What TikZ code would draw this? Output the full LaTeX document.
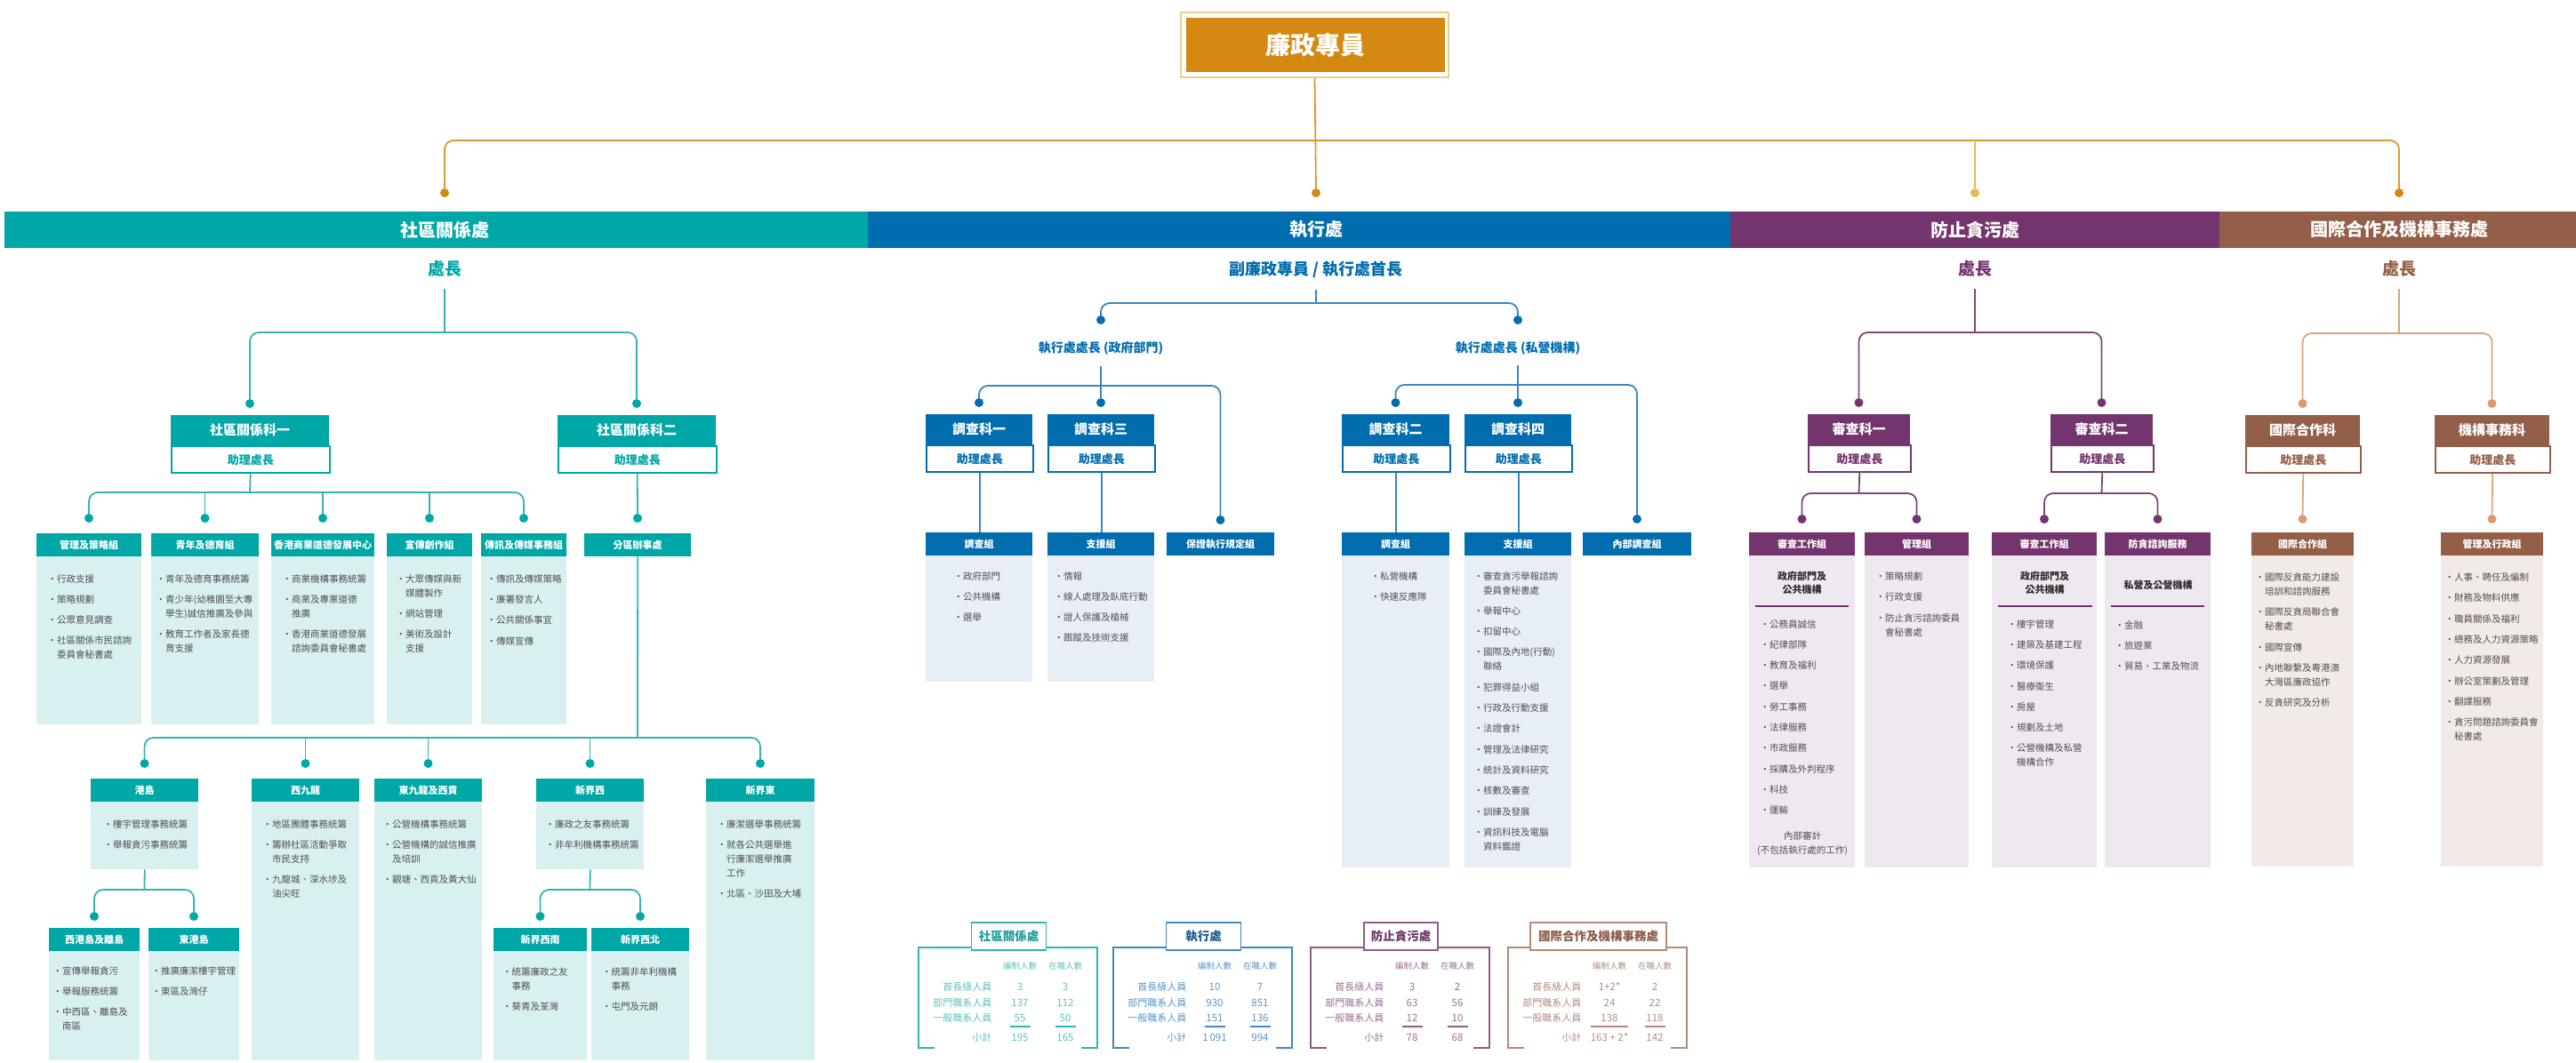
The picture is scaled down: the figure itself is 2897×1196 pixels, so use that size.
\documentclass[tikz,border=0pt]{standalone}
\usepackage{fontspec}
\setmainfont{Noto Sans CJK TC}
\usetikzlibrary{calc}
\definecolor{corange}{HTML}{D48A12}
\definecolor{cgold}{HTML}{DA9B30}
\definecolor{cgoldlt}{HTML}{E9B94C}
\definecolor{cframe}{HTML}{EDCD8E}
\definecolor{cteal}{HTML}{00A7A7}
\definecolor{ctealln}{HTML}{35B3B3}
\definecolor{ctealbg}{HTML}{D9F0F0}
\definecolor{cblue}{HTML}{006DAE}
\definecolor{cblueln}{HTML}{3A86BF}
\definecolor{cbluebg}{HTML}{E7EEF6}
\definecolor{cpurple}{HTML}{74346E}
\definecolor{cpurpleln}{HTML}{7D4779}
\definecolor{cpurplebg}{HTML}{F0E8F0}
\definecolor{cbrown}{HTML}{945F49}
\definecolor{cbrownln}{HTML}{DDA47F}
\definecolor{cbrowndot}{HTML}{DB9A6E}
\definecolor{cbrownbg}{HTML}{F1EAE7}
\definecolor{ctxt}{HTML}{505050}
\definecolor{cdark}{HTML}{2E2E2E}
\definecolor{tTf}{HTML}{2FB4B4}\definecolor{tTx}{HTML}{5CC3C3}\definecolor{tTh}{HTML}{1F9D9D}
\definecolor{tBf}{HTML}{3F88C1}\definecolor{tBx}{HTML}{5A96C8}\definecolor{tBh}{HTML}{1E5D93}
\definecolor{tPf}{HTML}{8E5B8B}\definecolor{tPx}{HTML}{9D6E9A}\definecolor{tPh}{HTML}{6B3767}
\definecolor{tRf}{HTML}{B58877}\definecolor{tRx}{HTML}{B58E7F}\definecolor{tRh}{HTML}{8C5C4B}

\newcommand\sz[2]{\fontsize{#1pt}{#2pt}\selectfont}
\newcommand\IB{\\[7.3pt]・}
\newcommand\IC{\\\hspace*{1em}}

\tikzset{
  cdot/.style={circle, fill=#1, inner sep=0, minimum size=10},
  conn/.style={draw=#1, line width=1.8pt, rounded corners=10pt},
  hbar/.style={rectangle, fill=#1, inner sep=0, anchor=north west},
  sectext/.style={text=white, font=\sz{20}{24}\bfseries, inner sep=0},
  chief/.style={text=#1, font=\sz{19}{22}\bfseries, inner sep=0, outer xsep=0, outer ysep=13.5pt},
  sub2/.style={text=#1, font=\sz{14}{17}\bfseries, inner sep=0, outer xsep=0, outer ysep=12pt},
  l2head/.style={anchor=north west, inner sep=0, minimum height=34, text=white, font=\sz{15}{18}\bfseries},
  l2sub/.style={anchor=north west, inner sep=0, minimum height=30, fill=white, line width=1.5pt, font=\sz{13}{16}\bfseries},
  thead/.style={anchor=north west, inner sep=0, minimum height=26, text=white, font=\sz{11}{13}\bfseries},
  tbody/.style={anchor=north west, inner sep=0, draw=none},
  itemtxt/.style={anchor=north west, align=left, inner sep=0, text=ctxt, font=\sz{10.5}{16}},
  subhd/.style={align=center, inner sep=0, text=cdark, font=\sz{11}{15.5}\bfseries},
  notetxt/.style={align=center, inner sep=0, text=ctxt, font=\sz{10.5}{16}},
  sepln/.style={draw=cpurple, line width=2pt},
  ttitle/.style={fill=white, line width=1.6pt, inner sep=0, minimum height=31, font=\sz{13.5}{16}\bfseries},
  tframe/.style={line width=1.8pt},
  tcolh/.style={inner sep=0, font=\sz{9.5}{11}},
  tlab/.style={inner sep=0, anchor=east, font=\sz{11}{13}},
  tnum/.style={inner sep=0, font=\sz{11.5}{13}},
}

\newcommand\mkltwo[6]{%
  \node[l2head, fill=#4, minimum width=#3] (#1) at (#2,#6) {#5};
  \node[l2sub, draw=#4, text=#4, minimum width=#3] (#1s) at (#1.south west) {助理處長};}
\newcommand\mkteam[6]{%
  \node[thead, fill=#5, minimum width=#4] (#1) at (#2,#3) {#6};}
\newcommand\mkbody[6]{%
  \node[tbody, fill=#6, minimum width=#4, minimum height=#5] (#1) at (#2,#3) {};}

\newcommand\stafftab[9]{%
\begin{scope}[shift={(#2,0)}]
  \node[ttitle, draw=#3f, text=#3h, minimum width=#5] (tt#1) at (101.5,1053.5) {#4};
  \draw[tframe, draw=#3f] (18,1179) -- (0,1179) -- (0,1066) -- (tt#1.west |- 0,1066);
  \draw[tframe, draw=#3f] (tt#1.east |- 0,1066) -- (201,1066) -- (201,1179) -- (183,1179);
  \node[tcolh, text=#3x] (ha#1) at (114,1087) {編制人數};
  \node[tcolh, text=#3x] (hb#1) at (165,1087) {在職人數};
  \foreach \lab/\va/\vb/\yy [count=\k] in {#6} {
    \node[tlab, text=#3x] (l#1\k) at (82.5,\yy) {\lab};
    \node[tnum, text=#3x] (a#1\k) at (114,\yy) {\va};
    \node[tnum, text=#3x] (b#1\k) at (165,\yy) {\vb};
  }
  \draw[tframe, draw=#3f] (114-#9/2,1155) -- (114+#9/2,1155);
  \draw[tframe, draw=#3f] (153.5,1155) -- (176.5,1155);
  \node[tlab, text=#3x] (ls#1) at (82.5,1167) {小計};
  \node[tnum, text=#3x] (sa#1) at (114,1167) {#7};
  \node[tnum, text=#3x] (sb#1) at (165,1167) {#8};
\end{scope}}

\begin{document}
\begin{tikzpicture}[x=1pt,y=-1pt]
\useasboundingbox (0,0) rectangle (2897,1196);
\fill[white] (0,0) rectangle (2897,1196);

% ---------- Director ----------
\node[draw=cframe, line width=2.5pt, minimum width=301, minimum height=73, inner sep=0] (dirframe) at (1478.5,50.5) {};
\node[fill=corange, minimum width=291, minimum height=61, inner sep=0, text=white, font=\sz{28}{32}\bfseries] (dir) at (1479.5,50.5) {廉政專員};

\coordinate (barT) at (1480,158);
\node[cdot=corange] (dS1) at (500,217) {};
\node[cdot=corange] (dS2) at (1480,217) {};
\node[cdot=cgoldlt] (dS3) at (2221,217) {};
\node[cdot=corange] (dS4) at (2698,217) {};
\draw[conn=cgold] (dS1.north) -- (dS1 |- barT) -- (dS4 |- barT) -- (dS4.north);
\draw[conn=cgold] (dirframe.south) -- (dS2.north);
\draw[conn=cgoldlt] (dS3 |- barT) -- (dS3.north);

% ---------- Section bars ----------
\node[hbar=cteal, minimum width=971, minimum height=41] (secC) at (5,238) {};
\node[hbar=cblue, minimum width=970, minimum height=41] (secE) at (976,238) {};
\node[hbar=cpurple, minimum width=550, minimum height=41] (secP) at (1946,238) {};
\node[hbar=cbrown, minimum width=401, minimum height=41] (secI) at (2496,238) {};
\node[sectext] (secCt) at (500,258.5) {社區關係處};
\node[sectext] (secEt) at (1480,258.5) {執行處};
\node[sectext] (secPt) at (2221,258.5) {防止貪污處};
\node[sectext] (secIt) at (2698,258.5) {國際合作及機構事務處};

\node[chief=cteal] (chC) at (500,302) {處長};
\node[chief=cblue, font=\sz{18}{21}\bfseries] (chE) at (1480,303) {副廉政專員 / 執行處首長};
\node[chief=cpurple] (chP) at (2221,302) {處長};
\node[chief=cbrown] (chI) at (2698,302) {處長};

% ================= 社區關係處 =================
\coordinate (cBar1) at (500,374);
\node[cdot=cteal] (dC1) at (281,454) {};
\node[cdot=cteal] (dC2) at (716,454) {};
\draw[conn=ctealln] (dC1.north) -- (dC1 |- cBar1) -- (dC2 |- cBar1) -- (dC2.north);
\draw[conn=ctealln] (chC.south) -- (cBar1);
\mkltwo{cK1}{192}{178}{cteal}{社區關係科一}{467}
\mkltwo{cK2}{627}{178}{cteal}{社區關係科二}{467}

\coordinate (cBar2) at (281,554);
\node[cdot=cteal] (dT1) at (100,583) {};
\node[cdot=cteal] (dT2) at (230.5,583) {};
\node[cdot=cteal] (dT3) at (363,583) {};
\node[cdot=cteal] (dT4) at (483,583) {};
\node[cdot=cteal] (dT5) at (589,583) {};
\node[cdot=cteal] (dT6) at (717,583) {};
\draw[conn=ctealln] (dT1.north) -- (dT1 |- cBar2) -- (dT5 |- cBar2) -- (dT5.north);
\draw[conn=ctealln] (cK1s.south) -- (cBar2);
\foreach \d in {dT2,dT3,dT4} \draw[conn=ctealln] (\d |- cBar2) -- (\d.north);
\draw[conn=ctealln] (cK2s.south) -- (dT6.north);

\mkteam{cA}{41}{600}{118}{cteal}{管理及策略組}
\mkteam{cB}{170}{600}{121}{cteal}{青年及德育組}
\mkteam{cC}{305}{600}{116}{cteal}{香港商業道德發展中心}
\mkteam{cD}{435}{600}{96}{cteal}{宣傳創作組}
\mkteam{cE}{541}{600}{96}{cteal}{傳訊及傳媒事務組}
\mkteam{cF}{657}{600}{120}{cteal}{分區辦事處}
\mkbody{cAb}{41}{626}{118}{189}{ctealbg}
\mkbody{cBb}{170}{626}{121}{189}{ctealbg}
\mkbody{cCb}{305}{626}{116}{189}{ctealbg}
\mkbody{cDb}{435}{626}{96}{189}{ctealbg}
\mkbody{cEb}{541}{626}{96}{189}{ctealbg}
\node[itemtxt] (cAi) at (53.5,646) {・行政支援\IB 策略規劃\IB 公眾意見調查\IB 社區關係市民諮詢\IC 委員會秘書處};
\node[itemtxt] (cBi) at (175.5,646) {・青年及德育事務統籌\IB 青少年(幼稚園至大專\IC 學生)誠信推廣及參與\IB 教育工作者及家長德\IC 育支援};
\node[itemtxt] (cCi) at (317.5,646) {・商業機構事務統籌\IB 商業及專業道德\IC 推廣\IB 香港商業道德發展\IC 諮詢委員會秘書處};
\node[itemtxt] (cDi) at (445.5,646) {・大眾傳媒與新\IC 媒體製作\IB 網站管理\IB 美術及設計\IC 支援};
\node[itemtxt] (cEi) at (547.5,646) {・傳訊及傳媒策略\IB 廉署發言人\IB 公共關係事宜\IB 傳媒宣傳};

% districts
\coordinate (cBar3) at (717,830);
\node[cdot=cteal] (dD1) at (162.5,859) {};
\node[cdot=cteal] (dD2) at (343.5,859) {};
\node[cdot=cteal] (dD3) at (481.5,859) {};
\node[cdot=cteal] (dD4) at (663.5,859) {};
\node[cdot=cteal] (dD5) at (855,859) {};
\draw[conn=ctealln] (dD1.north) -- (dD1 |- cBar3) -- (dD5 |- cBar3) -- (dD5.north);
\draw[conn=ctealln] (cF.south) -- (cBar3);
\foreach \d in {dD2,dD3,dD4} \draw[conn=ctealln] (\d |- cBar3) -- (\d.north);

\mkteam{gA}{102}{876}{121}{cteal}{港島}
\mkteam{gB}{283}{876}{121}{cteal}{西九龍}
\mkteam{gC}{421}{876}{121}{cteal}{東九龍及西貢}
\mkteam{gD}{603}{876}{121}{cteal}{新界西}
\mkteam{gE}{794}{876}{122}{cteal}{新界東}
\mkbody{gAb}{102}{902}{121}{76}{ctealbg}
\mkbody{gBb}{283}{902}{121}{291}{ctealbg}
\mkbody{gCb}{421}{902}{121}{291}{ctealbg}
\mkbody{gDb}{603}{902}{121}{76}{ctealbg}
\mkbody{gEb}{794}{902}{122}{291}{ctealbg}
\node[itemtxt] (gAi) at (116.5,922) {・樓宇管理事務統籌\IB 舉報貪污事務統籌};
\node[itemtxt] (gBi) at (295.5,922) {・地區團體事務統籌\IB 籌辦社區活動爭取\IC 市民支持\IB 九龍城、深水埗及\IC 油尖旺};
\node[itemtxt] (gCi) at (430.5,922) {・公營機構事務統籌\IB 公營機構的誠信推廣\IC 及培訓\IB 觀塘、西貢及黃大仙};
\node[itemtxt] (gDi) at (613.5,922) {・廉政之友事務統籌\IB 非牟利機構事務統籌};
\node[itemtxt] (gEi) at (806.5,922) {・廉潔選舉事務統籌\IB 就各公共選舉進\IC 行廉潔選舉推廣\IC 工作\IB 北區、沙田及大埔};

\coordinate (gBarA) at (162.5,1001);
\node[cdot=cteal] (dG1) at (106,1031) {};
\node[cdot=cteal] (dG2) at (218,1031) {};
\draw[conn=ctealln] (dG1.north) -- (dG1 |- gBarA) -- (dG2 |- gBarA) -- (dG2.north);
\draw[conn=ctealln] (gAb.south) -- (gBarA);
\coordinate (gBarD) at (663.5,1001);
\node[cdot=cteal] (dG3) at (607.5,1031) {};
\node[cdot=cteal] (dG4) at (720,1031) {};
\draw[conn=ctealln] (dG3.north) -- (dG3 |- gBarD) -- (dG4 |- gBarD) -- (dG4.north);
\draw[conn=ctealln] (gDb.south) -- (gBarD);

\mkteam{hA1}{55}{1044}{102}{cteal}{西港島及離島}
\mkteam{hA2}{167}{1044}{102}{cteal}{東港島}
\mkteam{hD1}{555}{1044}{105}{cteal}{新界西南}
\mkteam{hD2}{665}{1044}{110}{cteal}{新界西北}
\mkbody{hA1b}{55}{1070}{102}{123}{ctealbg}
\mkbody{hA2b}{167}{1070}{102}{123}{ctealbg}
\mkbody{hD1b}{555}{1070}{105}{123}{ctealbg}
\mkbody{hD2b}{665}{1070}{110}{123}{ctealbg}
\node[itemtxt] (hA1i) at (59.5,1087) {・宣傳舉報貪污\IB 舉報服務統籌\IB 中西區、離島及\IC 南區};
\node[itemtxt] (hA2i) at (170.5,1087) {・推廣廉潔樓宇管理\IB 東區及灣仔};
\node[itemtxt] (hD1i) at (565,1088) {・統籌廉政之友\IC 事務\IB 葵青及荃灣};
\node[itemtxt] (hD2i) at (677,1088) {・統籌非牟利機構\IC 事務\IB 屯門及元朗};

% ================= 執行處 =================
\coordinate (eBar0) at (1480,341);
\node[cdot=cblue] (dE1) at (1238,360) {};
\node[cdot=cblue] (dE2) at (1707,360) {};
\draw[conn=cblueln] (dE1.north) -- (dE1 |- eBar0) -- (dE2 |- eBar0) -- (dE2.north);
\draw[conn=cblueln] (chE.south) -- (eBar0);
\node[sub2=cblue] (eG) at (1238,392) {執行處處長 (政府部門)};
\node[sub2=cblue] (eP) at (1707,392) {執行處處長 (私營機構)};

\coordinate (eBar1) at (1238,434);
\node[cdot=cblue] (dE3) at (1101,453) {};
\node[cdot=cblue] (dE4) at (1238,453) {};
\node[cdot=cblue] (dE5) at (1372.5,585) {};
\draw[conn=cblueln] (dE3.north) -- (dE3 |- eBar1) -- (dE5 |- eBar1) -- (dE5.north);
\draw[conn=cblueln] (eG.south) -- (dE4.north);
\mkltwo{eK1}{1041}{120}{cblue}{調查科一}{466}
\mkltwo{eK3}{1178}{120}{cblue}{調查科三}{466}
\mkteam{eA}{1041}{599}{120}{cblue}{調查組}
\mkteam{eB}{1178}{599}{120}{cblue}{支援組}
\mkteam{eC}{1312}{599}{121}{cblue}{保證執行規定組}
\draw[conn=cblueln] (eK1s.south) -- (eK1s.south |- eA.north);
\draw[conn=cblueln] (eK3s.south) -- (eK3s.south |- eB.north);
\mkbody{eAb}{1041}{625}{120}{142}{cbluebg}
\mkbody{eBb}{1178}{625}{120}{142}{cbluebg}
\node[itemtxt] (eAi) at (1072.5,643) {・政府部門\IB 公共機構\IB 選舉};
\node[itemtxt] (eBi) at (1185.5,643) {・情報\IB 線人處理及臥底行動\IB 證人保護及槍械\IB 跟蹤及技術支援};

\coordinate (eBar2) at (1707,433);
\node[cdot=cblue] (dE6) at (1569.5,453) {};
\node[cdot=cblue] (dE7) at (1707,453) {};
\node[cdot=cblue] (dE8) at (1841,584) {};
\draw[conn=cblueln] (dE6.north) -- (dE6 |- eBar2) -- (dE8 |- eBar2) -- (dE8.north);
\draw[conn=cblueln] (eP.south) -- (dE7.north);
\mkltwo{eK2}{1509}{121}{cblue}{調查科二}{466}
\mkltwo{eK4}{1647}{120}{cblue}{調查科四}{466}
\mkteam{eD}{1509}{599}{121}{cblue}{調查組}
\mkteam{eE}{1647}{599}{120}{cblue}{支援組}
\mkteam{eF}{1780}{599}{122}{cblue}{內部調查組}
\draw[conn=cblueln] (eK2s.south) -- (eK2s.south |- eD.north);
\draw[conn=cblueln] (eK4s.south) -- (eK4s.south |- eE.north);
\mkbody{eDb}{1509}{625}{121}{351}{cbluebg}
\mkbody{eEb}{1647}{625}{120}{351}{cbluebg}
\node[itemtxt] (eDi) at (1541.5,643) {・私營機構\IB 快速反應隊};
\node[itemtxt] (eEi) at (1657.5,643) {・審查貪污舉報諮詢\IC 委員會秘書處\IB 舉報中心\IB 扣留中心\IB 國際及內地(行動)\IC 聯絡\IB 犯罪得益小組\IB 行政及行動支援\IB 法證會計\IB 管理及法律研究\IB 統計及資料研究\IB 核數及審查\IB 訓練及發展\IB 資訊科技及電腦\IC 資料鑑證};

% ================= 防止貪污處 =================
\coordinate (pBar1) at (2221,374);
\node[cdot=cpurple] (dP1) at (2090.5,453) {};
\node[cdot=cpurple] (dP2) at (2363.5,453) {};
\draw[conn=cpurpleln] (dP1.north) -- (dP1 |- pBar1) -- (dP2 |- pBar1) -- (dP2.north);
\draw[conn=cpurpleln] (chP.south) -- (pBar1);
\mkltwo{pK1}{2033}{115}{cpurple}{審查科一}{466}
\mkltwo{pK2}{2306}{115}{cpurple}{審查科二}{466}

\coordinate (pBar2) at (2090.5,555);
\node[cdot=cpurple] (dP3) at (2026.5,584) {};
\node[cdot=cpurple] (dP4) at (2155.5,584) {};
\draw[conn=cpurpleln] (dP3.north) -- (dP3 |- pBar2) -- (dP4 |- pBar2) -- (dP4.north);
\draw[conn=cpurpleln] (pK1s.south) -- (pBar2);
\coordinate (pBar3) at (2363.5,555);
\node[cdot=cpurple] (dP5) at (2299,584) {};
\node[cdot=cpurple] (dP6) at (2426.5,584) {};
\draw[conn=cpurpleln] (dP5.north) -- (dP5 |- pBar3) -- (dP6 |- pBar3) -- (dP6.north);
\draw[conn=cpurpleln] (pK2s.south) -- (pBar3);

\mkteam{pA}{1967}{599}{119}{cpurple}{審查工作組}
\mkteam{pB}{2097}{599}{117}{cpurple}{管理組}
\mkteam{pC}{2240}{599}{118}{cpurple}{審查工作組}
\mkteam{pD}{2367}{599}{119}{cpurple}{防貪諮詢服務}
\mkbody{pAb}{1967}{625}{119}{351}{cpurplebg}
\mkbody{pBb}{2097}{625}{117}{351}{cpurplebg}
\mkbody{pCb}{2240}{625}{118}{351}{cpurplebg}
\mkbody{pDb}{2367}{625}{119}{351}{cpurplebg}

\node[subhd] (pAh) at (2026.5,656) {政府部門及\\公共機構};
\draw[sepln] (1974,682) -- (2079,682);
\node[itemtxt] (pAi) at (1979.5,697) {・公務員誠信\IB 紀律部隊\IB 教育及福利\IB 選舉\IB 勞工事務\IB 法律服務\IB 市政服務\IB 採購及外判程序\IB 科技\IB 運輸};
\node[notetxt] (pAn) at (2027,948.6) {內部審計\\(不包括執行處的工作)};
\node[itemtxt] (pBi) at (2109.5,643.5) {・策略規劃\IB 行政支援\IB 防止貪污諮詢委員\IC 會秘書處};
\node[subhd] (pCh) at (2299.5,656) {政府部門及\\公共機構};
\draw[sepln] (2247,682) -- (2353,682);
\node[itemtxt] (pCi) at (2257.5,697) {・樓宇管理\IB 建築及基建工程\IB 環境保護\IB 醫療衞生\IB 房屋\IB 規劃及土地\IB 公營機構及私營\IC 機構合作};
\node[subhd] (pDh) at (2427,658) {私營及公營機構};
\draw[sepln] (2374,682) -- (2479,682);
\node[itemtxt] (pDi) at (2378.5,698) {・金融\IB 旅遊業\IB 貿易、工業及物流};

% ================= 國際合作及機構事務處 =================
\coordinate (iBar1) at (2698,375);
\node[cdot=cbrowndot] (dI1) at (2589.5,454) {};
\node[cdot=cbrowndot] (dI2) at (2802.5,454) {};
\draw[conn=cbrownln] (dI1.north) -- (dI1 |- iBar1) -- (dI2 |- iBar1) -- (dI2.north);
\draw[conn=cbrownln] (chI.south) -- (iBar1);
\mkltwo{iK1}{2525}{129}{cbrown}{國際合作科}{467}
\mkltwo{iK2}{2738}{129}{cbrown}{機構事務科}{467}
\node[cdot=cbrowndot] (dI3) at (2589.5,584) {};
\node[cdot=cbrowndot] (dI4) at (2802.5,584) {};
\draw[conn=cbrownln] (iK1s.south) -- (dI3.north);
\draw[conn=cbrownln] (iK2s.south) -- (dI4.north);
\mkteam{iA}{2532}{599}{115}{cbrown}{國際合作組}
\mkteam{iB}{2745}{599}{115}{cbrown}{管理及行政組}
\mkbody{iAb}{2532}{625}{115}{350}{cbrownbg}
\mkbody{iBb}{2745}{625}{115}{350}{cbrownbg}
\node[itemtxt] (iAi) at (2536.5,644.6) {・國際反貪能力建設\IC 培訓和諮詢服務\IB 國際反貪局聯合會\IC 秘書處\IB 國際宣傳\IB 內地聯繫及粵港澳\IC 大灣區廉政協作\IB 反貪研究及分析};
\node[itemtxt] (iBi) at (2749.5,644.6) {・人事、聘任及編制\IB 財務及物料供應\IB 職員關係及福利\IB 總務及人力資源策略\IB 人力資源發展\IB 辦公室策劃及管理\IB 翻譯服務\IB 貪污問題諮詢委員會\IC 秘書處};

% ================= staff tables =================
\stafftab{1}{1033}{tT}{社區關係處}{84}{首長級人員/3/3/1110,部門職系人員/137/112/1128,一般職系人員/55/50/1145.5}{195}{165}{23}
\stafftab{2}{1252}{tB}{執行處}{84}{首長級人員/10/7/1110,部門職系人員/930/851/1128,一般職系人員/151/136/1145.5}{1\,091}{994}{23}
\stafftab{3}{1474}{tP}{防止貪污處}{83}{首長級人員/3/2/1110,部門職系人員/63/56/1128,一般職系人員/12/10/1145.5}{78}{68}{23}
\stafftab{4}{1696}{tR}{國際合作及機構事務處}{153}{首長級人員/1+2*/2/1110,部門職系人員/24/22/1128,一般職系人員/138/118/1145.5}{163 + 2*}{142}{42}
\end{tikzpicture}
\end{document}
